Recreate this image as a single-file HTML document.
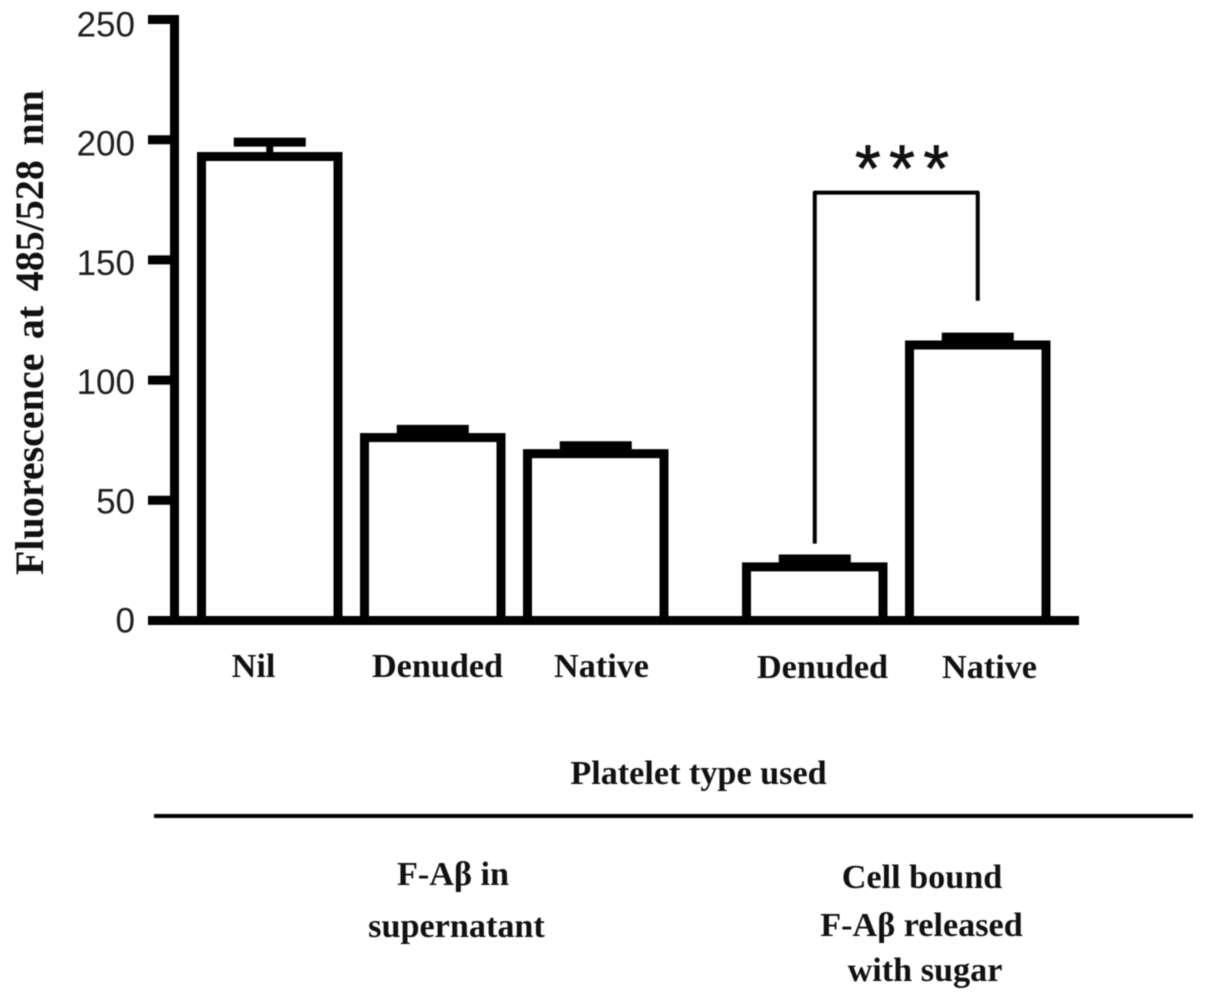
<!DOCTYPE html>
<html>
<head>
<meta charset="utf-8">
<style>
html,body{margin:0;padding:0;background:#fff;width:1205px;height:999px;overflow:hidden}
svg{display:block;filter:blur(0.5px)}
.tick{font-family:"Liberation Sans",Arial,sans-serif;font-size:35px;fill:#1f1f1f}
.lab{font-family:"Liberation Serif","Noto Serif CJK SC",serif;font-size:34.2px;font-weight:bold;fill:#111}
</style>
</head>
<body>
<svg id="chart" width="1205" height="999" viewBox="0 0 1205 999" xmlns="http://www.w3.org/2000/svg">
  <text class="lab" x="253.5" y="677" text-anchor="middle">Nil</text>
  <text class="lab" x="437.5" y="677" text-anchor="middle">Denuded</text>
  <text class="lab" x="601.5" y="677" text-anchor="middle">Native</text>
  <text class="lab" x="822.5" y="678" text-anchor="middle">Denuded</text>
  <text class="lab" x="989.5" y="678" text-anchor="middle">Native</text>
  <text class="lab" transform="translate(43,575) rotate(-90)" style="font-size:40px;word-spacing:4.5px">Fluorescence at 485/528 nm</text>
  <text class="lab" x="698.5" y="784" text-anchor="middle">Platelet type used</text>
  <line x1="154" y1="816" x2="1193" y2="816" stroke="#000" stroke-width="4"></line>
  <text class="lab" x="453" y="885" text-anchor="middle">F-Aβ in</text>
  <text class="lab" x="456.5" y="937" text-anchor="middle">supernatant</text>
  <text class="lab" x="922" y="888" text-anchor="middle">Cell bound</text>
  <text class="lab" x="921.5" y="936" text-anchor="middle">F-Aβ released</text>
  <text class="lab" x="925" y="981" text-anchor="middle">with sugar</text>
  <text x="855" y="191" fill="#111" stroke="#111" stroke-width="0.8" style="font-family:'Liberation Sans',sans-serif;font-size:66px;letter-spacing:8.5px">***</text>
</svg>
<script>
const categories = ["Nil", "Denuded", "Native", "Denuded", "Native"];
const groups = [0, 0, 0, 1, 1];
const values = [193, 76.1, 69.4, 22.3, 114.6];
const errors = [6, 3.4, 3.3, 3.3, 3.3];
const yTicks = [0, 50, 100, 150, 200, 250];
const bracketTop = 178;
const bracketLeftEnd = 32;
const bracketRightEnd = 133;

const svg = document.getElementById('chart');
const NS = 'http://www.w3.org/2000/svg';
const y = v => 620.5 - v * 2.404;
const barWidth = 136.5;
const x = i => 201.5 + 163 * i + 56 * groups[i];
const cx = i => x(i) + barWidth / 2;
const SW = 9;

function make(tag, attrs, text) {
  const el = document.createElementNS(NS, tag);
  for (const k in attrs) el.setAttribute(k, attrs[k]);
  if (text !== undefined) el.textContent = text;
  svg.appendChild(el);
  return el;
}

let el;
el = make('line', {x1:174.5, y1:y(yTicks[yTicks.length-1])-SW/2, x2:174.5, y2:y(0)+SW/2, stroke:'#000', 'stroke-width':SW});



yTicks.forEach(t => {
  let m = make('line', {x1:148, y1:y(t), x2:175, y2:y(t), stroke:'#000', 'stroke-width':SW});
  
  
  let l = make('text', {x:135, y:y(t) + 12 + t / 50, 'text-anchor':'end', class:'tick'}, t);
  
  
});

values.forEach((v, i) => {
  const top = v + errors[i];
  let stem = make('line', {x1:cx(i), y1:y(v), x2:cx(i), y2:y(top), stroke:'#000', 'stroke-width':7});
  
  
  let cap = make('line', {x1:cx(i)-36, y1:y(top), x2:cx(i)+36, y2:y(top), stroke:'#000', 'stroke-width':SW});
  
  
  let b = make('rect', {x:x(i), y:y(v), width:barWidth, height:y(0)-y(v), fill:'#fff', stroke:'#000', 'stroke-width':SW});
  
  
});

el = make('line', {x1:148, y1:y(0), x2:1079, y2:y(0), stroke:'#000', 'stroke-width':SW});



el = make('path', {d:'M' + cx(3) + ' ' + y(bracketLeftEnd) + 'V' + y(bracketTop) + 'H' + cx(4) + 'V' + y(bracketRightEnd), fill:'none', stroke:'#000', 'stroke-width':4, 'stroke-linejoin':'round'});


</script>
</body>
</html>
